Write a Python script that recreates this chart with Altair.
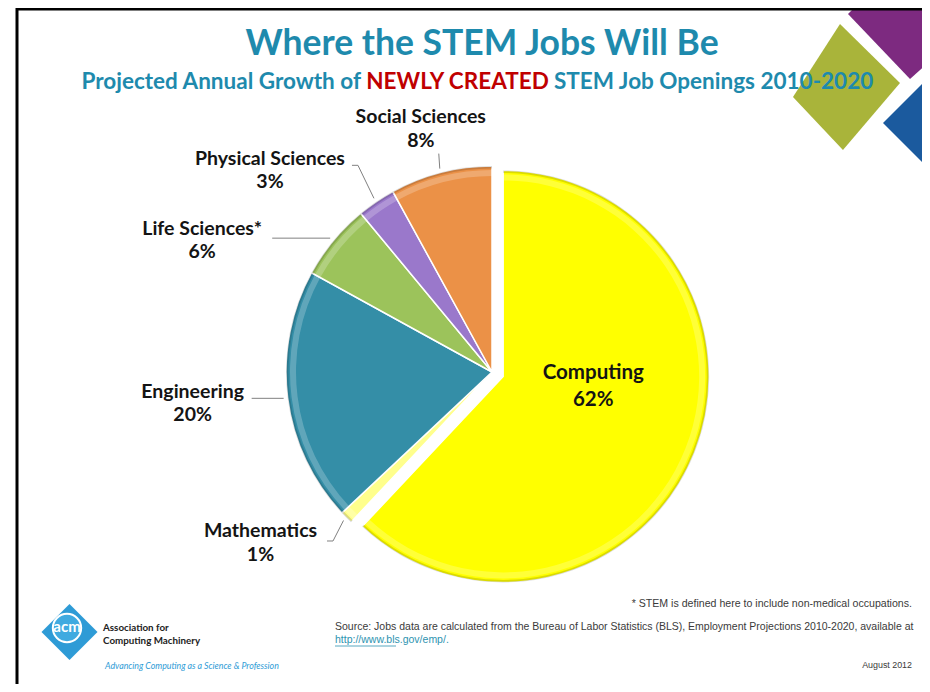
import math
import numpy as np
import pandas as pd
import altair as alt

# ---------------- data ----------------
categories = ["Computing", "Mathematics", "Engineering", "Life Sciences*",
              "Physical Sciences", "Social Sciences"]
shares = [62, 1, 20, 6, 3, 8]
pct_labels = ["62%", "1%", "20%", "6%", "3%", "8%"]
slice_colors = ["#FFFF00", "#FFFF8C", "#348EA7", "#9CC35B", "#9A78CB", "#EB9147"]

title_text = "Where the STEM Jobs Will Be"
subtitle_parts = ["Projected Annual Growth of", "NEWLY CREATED", "STEM Job Openings 2010-2020"]
footnote_text = "* STEM is defined here to include non-medical occupations."
source_text = ("Source: Jobs data are calculated from the Bureau of Labor Statistics (BLS), "
               "Employment Projections 2010-2020, available at")
source_url = "http://www.bls.gov/emp/."
date_text = "August 2012"
acm_lines = ["Association for", "Computing Machinery"]
acm_tagline = "Advancing Computing as a Science & Profession"

# ---------------- layout (screen px) ----------------
W, H = 914, 676
OX, OY = 8, 8
def sx(v): return v - OX
def sy(v): return v - OY

CX, CY, R = 492, 372, 206
EXPLODE = {"Computing": 12}
EDGE_R = 210
TEAL = "#1E8AAD"
RED = "#C00000"
LABEL_FS = 19.5
LINE_GAP = 23.5
INNER_FS = 20.5
INNER_GAP = 27

label_offsets = {           # offset of the first label line from the leader end point
    "Computing": (-94, -76),
    "Mathematics": (-83, 11),
    "Engineering": (-91, -6.5),
    "Life Sciences*": (-128, -9.5),
    "Physical Sciences": (-104, -39.5),
    "Social Sciences": (-19, -51.5),
}
leader_offsets = {
    "Mathematics": [(-16.5, 20.5), (-10.5, 20.5), (0, 0)],
    "Engineering": [(-32, 0), (0, 0)],
    "Life Sciences*": [(-58, 0), (0, 0)],
    "Physical Sciences": [(-22, -33), (-16, -33), (0, 0)],
    "Social Sciences": [(-1, -15), (0, 0)],
}

# ---------------- derived tables ----------------
vals = np.array(shares, dtype=float)
end = np.cumsum(vals)
start = end - vals
mid = (start + end) / 2
ang = mid / vals.sum() * 2 * math.pi

pie_rows = []
for i, c in enumerate(categories):
    e = EXPLODE.get(c, 0)
    pie_rows.append({
        "category": c, "value": shares[i], "start": start[i], "end": end[i],
        "cx": sx(CX + e * math.sin(ang[i])), "cy": sy(CY - e * math.cos(ang[i])),
    })
pie_df = pd.DataFrame(pie_rows)

edge = {c: (CX + EDGE_R * math.sin(ang[i]), CY - EDGE_R * math.cos(ang[i]))
        for i, c in enumerate(categories)}

outer_rows, inner_rows = [], []
for i, c in enumerate(categories):
    dx, dy = label_offsets[c]
    ex, ey = edge[c]
    inner = c == "Computing"
    row = {"text": f"{c}\n{pct_labels[i]}", "x": sx(ex + dx), "y": sy(ey + dy),
           "size": INNER_FS if inner else LABEL_FS, "color": "#141414"}
    (inner_rows if inner else outer_rows).append(row)

lead_rows = []
for c, pts in leader_offsets.items():
    ex, ey = edge[c]
    for k, (dx, dy) in enumerate(pts):
        lead_rows.append({"category": c, "seq": k, "x": sx(ex + dx), "y": sy(ey + dy)})
lead_df = pd.DataFrame(lead_rows)

# ---------------- helpers ----------------
def poly_shape(pts, cx, cy, h):
    s = "M" + "L".join(f"{(x - cx) / h:.3f},{(y - cy) / h:.3f}" for x, y in pts) + "Z"
    return s, (2 * h) ** 2

deco_rows = []
for pts, col in [
    ([(793, 97), (840, 24), (900, 83), (843, 150)], "#A9B43A"),
    ([(848, 14), (857, 5), (940, 5), (940, 52), (910, 79)], "#7D2A80"),
    ([(883, 123), (940, 66), (940, 180)], "#1B5A9E"),
]:
    cxp = sum(p[0] for p in pts) / len(pts)
    cyp = sum(p[1] for p in pts) / len(pts)
    h = max(max(abs(p[0] - cxp), abs(p[1] - cyp)) for p in pts)
    shp, size = poly_shape(pts, cxp, cyp, h)
    deco_rows.append({"x": sx(cxp), "y": sy(cyp), "shape": shp, "size": size, "color": col})
deco_rows.append({"x": sx(69.5), "y": sy(632), "shape": "diamond", "size": 56 ** 2, "color": "#2E9BD6"})
deco_df = pd.DataFrame(deco_rows)

def xy():
    return dict(x=alt.X("x:Q", scale=None, axis=None), y=alt.Y("y:Q", scale=None, axis=None))

def text_layer(rows, align="center", font="Lato", weight="bold", style="normal",
               baseline="middle", **kw):
    return alt.Chart(pd.DataFrame(rows)).mark_text(
        align=align, baseline=baseline, font=font, fontWeight=weight, fontStyle=style, **kw
    ).encode(
        text="text:N",
        color=alt.Color("color:N", scale=None),
        size=alt.Size("size:Q", scale=None),
        **xy(),
    )

# ---------------- layers ----------------
deco = alt.Chart(deco_df).mark_point(filled=True, opacity=1, strokeWidth=0).encode(
    shape=alt.Shape("shape:N", scale=None),
    color=alt.Color("color:N", scale=None),
    size=alt.Size("size:Q", scale=None),
    **xy(),
)

theta_scale = alt.Scale(domain=[0, 100])
pie_base = alt.Chart(pie_df).encode(
    theta=alt.Theta("start:Q", scale=theta_scale),
    theta2="end:Q",
    x=alt.X("cx:Q", scale=None, axis=None),
    y=alt.Y("cy:Q", scale=None, axis=None),
)
arcs = pie_base.mark_arc(radius=R, stroke="#FFFFFF", strokeWidth=1.5).encode(
    color=alt.Color("category:N", scale=alt.Scale(domain=categories, range=slice_colors), legend=None)
)
rim = pie_base.mark_arc(radius=R, radius2=R - 2.5, fill="#000000", fillOpacity=0.14, strokeWidth=0)
shine = pie_base.mark_arc(radius=R - 4, radius2=R - 10, fill="#FFFFFF", fillOpacity=0.22, strokeWidth=0)

leaders = alt.Chart(lead_df).mark_line(color="#808080", strokeWidth=1).encode(
    detail="category:N", order="seq:O", **xy()
)
labels_out = text_layer(outer_rows, lineBreak="\n", lineHeight=LINE_GAP)
labels_in = text_layer(inner_rows, lineBreak="\n", lineHeight=INNER_GAP)

SUB_FS = 22.5
titles = text_layer([{"text": title_text, "x": sx(482), "y": sy(44), "size": 35.5, "color": TEAL}])
sub_a = text_layer([{"text": subtitle_parts[0], "x": sx(361), "y": sy(82), "size": SUB_FS, "color": TEAL}], align="right")
sub_b = text_layer([{"text": subtitle_parts[1], "x": sx(457.5), "y": sy(82), "size": SUB_FS, "color": RED}], align="center")
sub_c = text_layer([{"text": subtitle_parts[2], "x": sx(554), "y": sy(82), "size": SUB_FS, "color": TEAL}], align="left")

foot_font = "Liberation Sans, Arial, sans-serif"
foot_r = text_layer([
    {"text": footnote_text, "x": sx(912), "y": sy(604), "size": 10.6, "color": "#3A3A3A"},
    {"text": date_text, "x": sx(912), "y": sy(665), "size": 8.9, "color": "#3A3A3A"},
], align="right", font=foot_font, weight="normal")
foot_l = text_layer([
    {"text": source_text, "x": sx(335), "y": sy(627), "size": 10.5, "color": "#3A3A3A"},
    {"text": source_url, "x": sx(335), "y": sy(640), "size": 10.5, "color": "#2E93B0"},
], align="left", font=foot_font, weight="normal")
url_line = alt.Chart(pd.DataFrame([{"x": sx(335), "x2": sx(396), "y": sy(646)}])).mark_rule(
    color="#2E93B0", strokeWidth=0.8
).encode(x=alt.X("x:Q", scale=None, axis=None), x2="x2:Q", y=alt.Y("y:Q", scale=None, axis=None))

acm_circle = alt.Chart(pd.DataFrame([{"x": sx(67), "y": sy(628)}])).mark_circle(
    size=math.pi * 16 ** 2, color="#40AAE0", opacity=1, stroke="#FFFFFF", strokeWidth=2
).encode(**xy())
acm_logo_text = text_layer([{"text": "acm", "x": sx(67), "y": sy(627), "size": 15, "color": "#FFFFFF"}])
acm_text = text_layer([
    {"text": acm_lines[0], "x": sx(103), "y": sy(628), "size": 9.8, "color": "#222222"},
    {"text": acm_lines[1], "x": sx(103), "y": sy(641), "size": 9.8, "color": "#222222"},
], align="left")
acm_tag = text_layer([{"text": acm_tagline, "x": sx(105), "y": sy(666), "size": 8.8, "color": "#2E9BD6"}],
                     align="left", weight="normal", style="italic")

border_v = alt.Chart(pd.DataFrame([{"a": 0}])).mark_rule(color="#000000", strokeWidth=3).encode(
    x=alt.value(sx(17)), y=alt.value(0), y2=alt.value(H)
)
border_h = alt.Chart(pd.DataFrame([{"a": 0}])).mark_rule(color="#000000", strokeWidth=3).encode(
    x=alt.value(sx(16)), x2=alt.value(W), y=alt.value(1)
)

chart = alt.layer(
    deco, arcs, rim, shine, leaders, labels_out, labels_in, titles, sub_a, sub_b, sub_c,
    foot_r, foot_l, url_line, acm_circle, acm_logo_text, acm_text, acm_tag,
    border_v, border_h,
).properties(
    width=W, height=H, padding=0, autosize=alt.AutoSizeParams(type="none"), background="#FFFFFF"
).configure_view(strokeWidth=0)

chart.save("out.html", embed_options={"renderer": "svg", "actions": False})
